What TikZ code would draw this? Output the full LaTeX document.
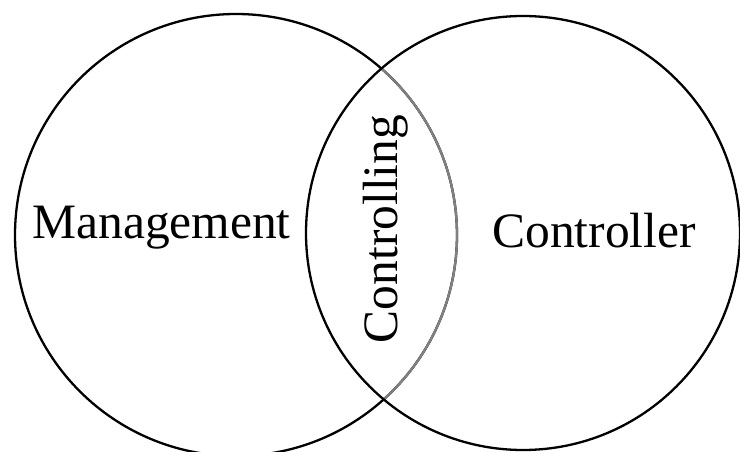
\documentclass[tikz,border=0pt]{standalone}
\usepackage{fontspec}
\setmainfont{Liberation Serif}
\begin{document}
\begin{tikzpicture}[x=1pt,y=-1pt,
  ring/.style={circle,draw=black,line width=2.3pt,inner sep=0pt},
  label/.style={font=\fontsize{49.5}{52}\selectfont,inner sep=0pt,anchor=base}]
  \useasboundingbox (0,0) rectangle (740,452);
  \clip (0,0) rectangle (740,452);
  % left set
  \node[ring,minimum size=442pt] (mgmt) at (236,235) {};
  % overlap edge of the left set, shown lighter
  \begin{scope}
    \clip (523,233) circle (217pt);
    \draw[line width=2.3pt,draw=black!50] (236,235) circle (221pt);
  \end{scope}
  % right set
  \node[ring,minimum size=434pt] (ctrl) at (523,233) {};
  % texts
  \node[label] (tm) at (161.5,238) {Management};
  \node[label] (tc) at (594,247) {Controller};
  \node[label,rotate=90] (tl) at (397,229) {Controlling};
\end{tikzpicture}
\end{document}
